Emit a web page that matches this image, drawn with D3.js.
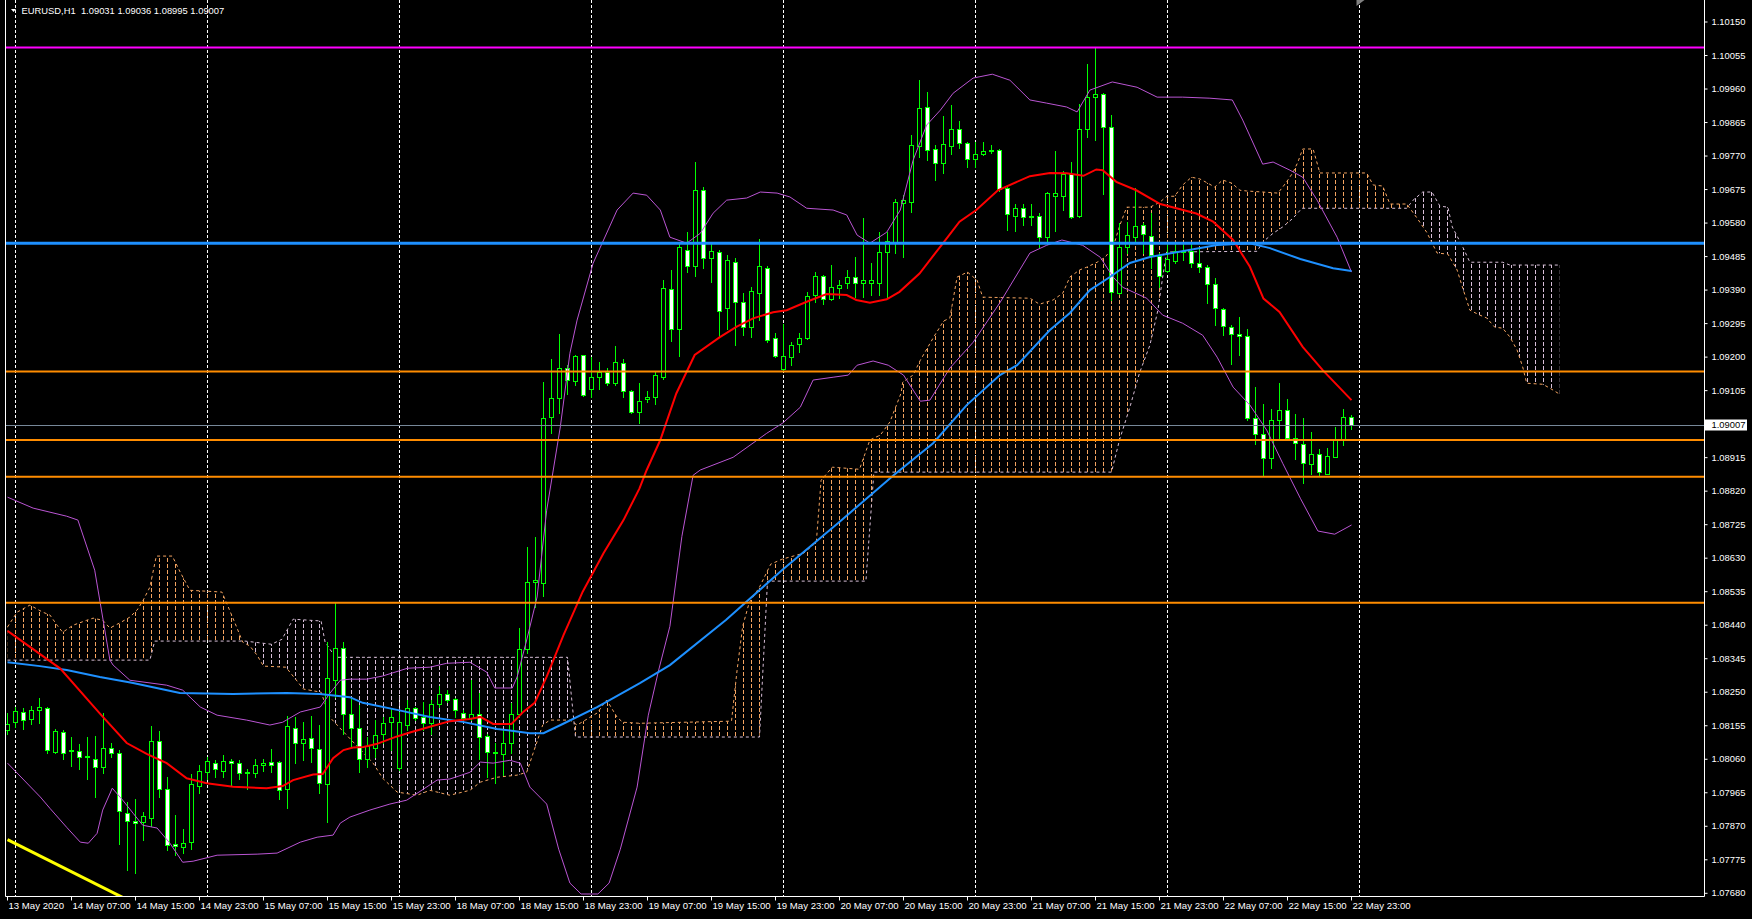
<!DOCTYPE html>
<html>
<head>
<meta charset="utf-8">
<title>EURUSD,H1</title>
<script src="https://cdn.jsdelivr.net/npm/d3@7/dist/d3.min.js"></script>
<style>
html,body{margin:0;padding:0;background:#000;overflow:hidden;}
svg{display:block;}
text{font-family:"Liberation Sans",Arial,sans-serif;}
</style>
</head>
<body>
<svg id="chart" width="1752" height="919"></svg>
<script>
// ---------------- DATA ----------------
const symbolTitle = "EURUSD,H1";
// hourly candles [open, high, low, close], bar 0 = 13 May 2020 23:00
const ohlc = [
[1.08142,1.08190,1.08133,1.08161],[1.08167,1.08209,1.08152,1.08197],[1.08194,1.08204,1.08147,1.08171],[1.08173,1.08210,1.08159,1.08201],
[1.08201,1.08234,1.08163,1.08209],[1.08204,1.08209,1.08078,1.08086],[1.08081,1.08146,1.08078,1.08139],[1.08138,1.08144,1.08062,1.08079],
[1.08082,1.08122,1.08041,1.08086],[1.08084,1.08103,1.08032,1.08065],[1.08065,1.08124,1.08005,1.08069],[1.08062,1.08125,1.07953,1.08037],
[1.08037,1.08192,1.08021,1.08093],[1.08093,1.08105,1.08067,1.08079],[1.08079,1.08086,1.07821,1.07913],[1.07909,1.07939,1.07746,1.07884],
[1.07884,1.07946,1.07738,1.07878],[1.07881,1.07911,1.07832,1.07899],[1.07894,1.08154,1.07870,1.08112],[1.08112,1.08141,1.07953,1.07977],
[1.07977,1.08010,1.07802,1.07818],[1.07819,1.07901,1.07788,1.07815],[1.07812,1.07861,1.07795,1.07824],[1.07826,1.08018,1.07807,1.07989],
[1.07985,1.08043,1.07965,1.08028],[1.08025,1.08067,1.08005,1.08056],[1.08048,1.08059,1.08010,1.08031],[1.08027,1.08072,1.08010,1.08054],
[1.08054,1.08062,1.07984,1.08048],[1.08050,1.08059,1.08005,1.08022],[1.08025,1.08032,1.07975,1.08020],[1.08021,1.08062,1.08010,1.08045],
[1.08045,1.08062,1.08026,1.08048],[1.08051,1.08090,1.08024,1.08045],[1.08051,1.08056,1.07946,1.07974],[1.07977,1.08183,1.07922,1.08154],
[1.08150,1.08180,1.08048,1.08105],[1.08105,1.08166,1.08059,1.08116],[1.08119,1.08183,1.08051,1.08093],[1.08090,1.08157,1.07963,1.07994],
[1.07991,1.08393,1.07881,1.08289],[1.08286,1.08503,1.08237,1.08374],[1.08374,1.08393,1.08133,1.08187],[1.08187,1.08237,1.08096,1.08148],
[1.08148,1.08214,1.08025,1.08060],[1.08060,1.08124,1.08039,1.08098],[1.08091,1.08171,1.08067,1.08130],[1.08133,1.08181,1.08105,1.08164],
[1.08165,1.08204,1.08086,1.08179],[1.08034,1.08195,1.08030,1.08166],[1.08157,1.08228,1.08143,1.08204],[1.08204,1.08209,1.08171,1.08176],
[1.08179,1.08223,1.08143,1.08162],[1.08162,1.08228,1.08133,1.08218],[1.08218,1.08268,1.08209,1.08244],[1.08244,1.08256,1.08223,1.08228],
[1.08230,1.08235,1.08181,1.08199],[1.08192,1.08201,1.08171,1.08176],[1.08176,1.08285,1.08171,1.08187],[1.08187,1.08247,1.08062,1.08122],
[1.08126,1.08133,1.08011,1.08081],[1.08081,1.08105,1.07992,1.08078],[1.08074,1.08143,1.08015,1.08107],[1.08107,1.08220,1.08077,1.08187],
[1.08187,1.08431,1.08181,1.08372],[1.08372,1.08662,1.08360,1.08563],[1.08563,1.08691,1.08492,1.08567],[1.08561,1.09130,1.08523,1.09026],
[1.09029,1.09194,1.08984,1.09083],[1.09083,1.09266,1.09041,1.09168],[1.09168,1.09178,1.09095,1.09135],[1.09133,1.09206,1.09121,1.09203],
[1.09206,1.09207,1.09090,1.09093],[1.09111,1.09201,1.09088,1.09143],[1.09143,1.09187,1.09111,1.09159],[1.09159,1.09168,1.09121,1.09128],
[1.09128,1.09231,1.09121,1.09185],[1.09182,1.09194,1.09088,1.09104],[1.09104,1.09108,1.09041,1.09043],[1.09045,1.09127,1.09014,1.09076],
[1.09080,1.09105,1.09074,1.09088],[1.09086,1.09161,1.09067,1.09148],[1.09143,1.09420,1.09137,1.09395],[1.09392,1.09447,1.09246,1.09281],
[1.09281,1.09527,1.09204,1.09511],[1.09505,1.09555,1.09442,1.09459],[1.09459,1.09752,1.09431,1.09675],[1.09675,1.09681,1.09452,1.09480],
[1.09480,1.09524,1.09414,1.09501],[1.09499,1.09504,1.09256,1.09332],[1.09338,1.09489,1.09281,1.09475],[1.09469,1.09480,1.09234,1.09357],
[1.09357,1.09381,1.09263,1.09284],[1.09286,1.09400,1.09258,1.09388],[1.09383,1.09535,1.09305,1.09458],[1.09454,1.09459,1.09244,1.09248],
[1.09253,1.09267,1.09201,1.09204],[1.09165,1.09294,1.09163,1.09203],[1.09199,1.09244,1.09177,1.09233],[1.09236,1.09267,1.09215,1.09253],
[1.09253,1.09384,1.09251,1.09374],[1.09376,1.09442,1.09357,1.09431],[1.09430,1.09433,1.09351,1.09364],[1.09364,1.09460,1.09362,1.09398],
[1.09395,1.09418,1.09367,1.09404],[1.09409,1.09447,1.09395,1.09426],[1.09426,1.09485,1.09371,1.09411],[1.09409,1.09593,1.09371,1.09418],
[1.09411,1.09466,1.09376,1.09418],[1.09409,1.09554,1.09376,1.09497],[1.09497,1.09554,1.09371,1.09530],[1.09527,1.09647,1.09494,1.09639],
[1.09638,1.09660,1.09485,1.09645],[1.09641,1.09829,1.09612,1.09801],[1.09798,1.09985,1.09766,1.09905],[1.09908,1.09951,1.09758,1.09787],
[1.09789,1.09801,1.09702,1.09749],[1.09749,1.09883,1.09723,1.09803],[1.09799,1.09914,1.09777,1.09848],[1.09848,1.09869,1.09794,1.09806],
[1.09806,1.09811,1.09740,1.09763],[1.09763,1.09811,1.09740,1.09777],[1.09777,1.09809,1.09773,1.09783],[1.09783,1.09800,1.09779,1.09787],
[1.09787,1.09790,1.09672,1.09676],[1.09679,1.09683,1.09561,1.09605],[1.09601,1.09633,1.09558,1.09622],[1.09622,1.09633,1.09575,1.09598],
[1.09598,1.09633,1.09575,1.09600],[1.09600,1.09608,1.09513,1.09540],[1.09540,1.09669,1.09521,1.09664],[1.09657,1.09784,1.09558,1.09664],
[1.09657,1.09728,1.09617,1.09718],[1.09718,1.09754,1.09595,1.09598],[1.09601,1.09917,1.09598,1.09846],[1.09846,1.10031,1.09825,1.09938],
[1.09938,1.10075,1.09815,1.09945],[1.09945,1.09948,1.09662,1.09851],[1.09851,1.09886,1.09362,1.09384],[1.09381,1.09581,1.09379,1.09511],
[1.09513,1.09584,1.09496,1.09546],[1.09541,1.09679,1.09523,1.09572],[1.09574,1.09579,1.09494,1.09549],[1.09544,1.09609,1.09452,1.09490],
[1.09488,1.09494,1.09400,1.09430],[1.09445,1.09521,1.09442,1.09477],[1.09473,1.09521,1.09468,1.09502],[1.09497,1.09525,1.09475,1.09502],
[1.09502,1.09525,1.09456,1.09468],[1.09466,1.09508,1.09440,1.09456],[1.09456,1.09461,1.09354,1.09406],[1.09406,1.09424,1.09291,1.09338],
[1.09335,1.09338,1.09263,1.09288],[1.09284,1.09291,1.09181,1.09265],[1.09265,1.09315,1.09206,1.09260],[1.09260,1.09279,1.09022,1.09026],
[1.09026,1.09116,1.08953,1.08981],[1.08981,1.09067,1.08866,1.08913],[1.08913,1.09052,1.08885,1.09023],[1.09023,1.09128,1.08970,1.09050],
[1.09050,1.09080,1.08967,1.08972],[1.08972,1.09039,1.08910,1.08956],[1.08953,1.09026,1.08844,1.08899],[1.08896,1.08989,1.08870,1.08924],
[1.08924,1.08939,1.08866,1.08873],[1.08870,1.08943,1.08868,1.08920],[1.08918,1.09003,1.08916,1.08967],[1.08967,1.09052,1.08951,1.09031],
[1.09031,1.09036,1.08995,1.09007]
];

const timeTickBars = [0,8,16,24,32,40,48,56,64,72,80,88,96,104,112,120,128,136,144,152,160,168];
const timeLabels = ["13 May 2020","14 May 07:00","14 May 15:00","14 May 23:00","15 May 07:00","15 May 15:00","15 May 23:00",
  "18 May 07:00","18 May 15:00","18 May 23:00","19 May 07:00","19 May 15:00","19 May 23:00","20 May 07:00","20 May 15:00",
  "20 May 23:00","21 May 07:00","21 May 15:00","21 May 23:00","22 May 07:00","22 May 15:00","22 May 23:00"];
const daySeparatorBars = [1,25,49,73,97,121,145,169];
const priceTickLabels = ["1.10150","1.10055","1.09960","1.09865","1.09770","1.09675","1.09580","1.09485","1.09390",
  "1.09295","1.09200","1.09105","1.09010","1.08915","1.08820","1.08725","1.08630","1.08535","1.08440","1.08345",
  "1.08250","1.08155","1.08060","1.07965","1.07870","1.07775","1.07680"];

// indicator lines, [bar, price]
const redMA = [[0,1.08424],[6.6,1.08317],[11.5,1.08191],[14.9,1.08106],[17.4,1.08075],[19.9,1.08049],[22.4,1.08006],[24.9,1.07992],
 [28.2,1.07982],[32.4,1.07978],[34.4,1.07984],[35.7,1.08001],[38.2,1.08017],[39.4,1.08018],[40.7,1.08063],[42,1.08086],[43.2,1.08093],
 [44.5,1.08095],[46.1,1.08103],[48.6,1.08124],[50.3,1.08136],[52.8,1.08152],[55.3,1.08168],[57.8,1.08174],[59.1,1.08180],[60.7,1.08160],
 [63,1.08160],[64.5,1.08195],[65.9,1.08220],[67.4,1.08294],[69.5,1.08412],[71.9,1.08535],[74.5,1.08644],[77,1.08738],[79,1.08828],
 [79.9,1.08880],[81.6,1.08965],[83.6,1.09097],[85.9,1.09206],[89,1.09256],[91.1,1.09286],[93.2,1.09310],[95.7,1.09327],[97.4,1.09333],
 [99.9,1.09357],[102.4,1.09379],[104.9,1.09376],[106.1,1.09362],[107.8,1.09354],[109.9,1.09364],[111.5,1.09385],[114,1.09437],
 [116.9,1.09522],[119,1.09584],[121.1,1.09617],[123.8,1.09673],[127.8,1.09713],[130.3,1.09722],[132.4,1.09721],[134.5,1.09714],
 [136.1,1.09732],[136.9,1.09730],[138.6,1.09697],[141.1,1.09673],[144.1,1.09634],[148.6,1.09607],[150.7,1.09584],[153.2,1.09532],
 [155.3,1.09456],[157,1.09366],[159,1.09328],[161.9,1.09229],[164.4,1.09163],[168,1.09078]];

const blueMA = [[0,1.08335],[4.05,1.08324],[7.4,1.08313],[11.55,1.08293],[15.7,1.08276],[21.55,1.08248],[28.2,1.08245],[34.9,1.08248],
 [39.05,1.08245],[42.8,1.08236],[44.4,1.08220],[48.7,1.08200],[52.8,1.08180],[56.9,1.08166],[61.2,1.08146],[65.3,1.08134],[67,1.08134],
 [69.4,1.08160],[73.7,1.08208],[79.05,1.08276],[82.8,1.08327],[89.8,1.08455],[96.8,1.08596],[103.8,1.08729],[110.8,1.08866],
 [115.7,1.08956],[119.9,1.09064],[124.05,1.09149],[126.2,1.09177],[130.3,1.09277],[132.8,1.09325],[135.3,1.09390],[137.8,1.09427],
 [140.3,1.09467],[142.8,1.09484],[147,1.09501],[151.2,1.09518],[155.3,1.09523],[157.8,1.09509],[161.6,1.09478],[165.7,1.09452],[168,1.09444]];

const bbUpper = [[0,1.08803],[3.2,1.08772],[7.4,1.08749],[8.8,1.08738],[10.9,1.08596],[12.8,1.08341],[13.2,1.08327],[15.3,1.08284],
 [19.9,1.08270],[21.9,1.08256],[24.1,1.08208],[26.2,1.08185],[29.9,1.08171],[32.8,1.08157],[34.4,1.08165],[36.6,1.08194],[39.1,1.08208],
 [40.3,1.08247],[41.6,1.08284],[42.8,1.08287],[44.9,1.08287],[46.9,1.08296],[50,1.08318],[52.8,1.08321],[54.9,1.08332],[57.8,1.08335],
 [59.9,1.08307],[60.9,1.08262],[63.1,1.08262],[63.7,1.08293],[64.9,1.08398],[66.2,1.08520],[67.4,1.08766],[69.1,1.09002],[70.3,1.09211],
 [71.2,1.09305],[73.2,1.09466],[76.2,1.09617],[78.2,1.09665],[79.9,1.09659],[81.6,1.09617],[82.8,1.09540],[84.9,1.09523],[86.6,1.09551],
 [88.2,1.09608],[89.9,1.09645],[92.4,1.09651],[94.1,1.09668],[96.2,1.09665],[97.8,1.09654],[99.9,1.09622],[103.2,1.09617],[104.9,1.09603],
 [106.2,1.09546],[107.8,1.09523],[109.9,1.09554],[111.6,1.09617],[113.2,1.09758],[114.9,1.09858],[116.6,1.09900],[118.2,1.09948],
 [120.7,1.09991],[123.1,1.10002],[125.3,1.09985],[127.8,1.09929],[129.9,1.09920],[132.4,1.09909],[133.7,1.09895],[135.3,1.09957],
 [138.1,1.09980],[141.2,1.09965],[143.7,1.09937],[146.9,1.09937],[150.3,1.09934],[153.1,1.09929],[154.4,1.09872],[156.9,1.09747],
 [158.2,1.09753],[160.3,1.09730],[161.9,1.09710],[163.7,1.09645],[166.2,1.09540],[168,1.09441]];

const bbLower = [[0,1.08049],[1.2,1.08021],[4.1,1.07953],[5.3,1.07921],[7.4,1.07867],[9.1,1.07825],[10.1,1.07822],[11.2,1.07850],
 [11.9,1.07916],[13.1,1.07978],[14.4,1.07944],[15.7,1.07907],[16.9,1.07873],[18.7,1.07865],[20.3,1.07822],[21.9,1.07768],[23.2,1.07771],
 [26.2,1.07788],[31.2,1.07791],[33.7,1.07794],[36.6,1.07825],[38.7,1.07839],[40.7,1.07845],[41.6,1.07879],[42.8,1.07896],[45.3,1.07916],
 [47.8,1.07933],[49.9,1.07944],[53.7,1.08001],[55.3,1.08004],[57.8,1.08023],[59.1,1.08052],[60.7,1.08049],[62.8,1.08057],[64.1,1.08049],
 [65.3,1.07981],[67.4,1.07933],[68.9,1.07805],[70.3,1.07709],[71.7,1.07678],[73.8,1.07678],[75.2,1.07709],[76.6,1.07805],[78.7,1.07981],
 [80.1,1.08185],[81.4,1.08313],[82.8,1.08437],[84.3,1.08692],[85.7,1.08865],[86.6,1.08880],[90.7,1.08916],[94.9,1.08984],[96.9,1.09013],
 [99.1,1.09058],[100.7,1.09135],[103.2,1.09143],[105.1,1.09149],[106.2,1.09177],[108.2,1.09189],[110.1,1.09177],[112,1.09149],
 [114.1,1.09075],[115.3,1.09078],[117.8,1.09169],[120.7,1.09242],[124.1,1.09356],[127.8,1.09495],[129.9,1.09517],[131.8,1.09532],
 [134.4,1.09517],[136.6,1.09483],[138.2,1.09427],[139.4,1.09398],[142.4,1.09367],[144.4,1.09319],[146.9,1.09296],[149.4,1.09262],
 [151.2,1.09200],[153.2,1.09115],[155.3,1.09064],[157.4,1.08993],[159.4,1.08899],[161.6,1.08800],[163.8,1.08707],[165.9,1.08698],[168,1.08724]];

// Ichimoku cloud (shifted 26 bars forward)
const spanA = [[0,1.08435],[1.2,1.08477],[2.8,1.08497],[4.4,1.08477],[5.3,1.08469],[6.2,1.08440],[6.9,1.08420],[8.2,1.08440],
 [9.9,1.08454],[10.7,1.08460],[11.9,1.08454],[12.8,1.08432],[14,1.08446],[15.3,1.08463],[16.2,1.08483],[16.9,1.08508],[17.8,1.08548],
 [18.6,1.08636],[20.6,1.08636],[21.6,1.08590],[22.8,1.08539],[26.8,1.08534],[27.7,1.08486],[28.6,1.08437],[29.4,1.08392],[30.3,1.08381],
 [31.2,1.08355],[32,1.08324],[34.8,1.08321],[37,1.08259],[39.2,1.08250],[40.3,1.08179],[41.2,1.08157],[45.7,1.08049],[46.9,1.08006],
 [48.7,1.07967],[51.2,1.07958],[52.8,1.07972],[55.3,1.07958],[57.8,1.07972],[59.1,1.07995],[61.2,1.08009],[63.7,1.08015],[64.9,1.08023],
 [65.7,1.08077],[66.9,1.08157],[67.8,1.08171],[70.3,1.08171],[71.2,1.08157],[73.7,1.08191],[74.9,1.08228],[76.2,1.08179],[76.9,1.08165],
 [79,1.08162],[90.5,1.08168],[91.2,1.08313],[91.9,1.08437],[92.7,1.08503],[94,1.08548],[95.4,1.08613],[96.8,1.08627],[99.5,1.08644],
 [101.1,1.08675],[101.7,1.08851],[103.1,1.08888],[106.5,1.08882],[107.8,1.08965],[109.1,1.08979],[110.3,1.09016],[111.7,1.09098],
 [111.9,1.09129],[113.2,1.09149],[114.1,1.09191],[115.7,1.09254],[117,1.09302],[117.8,1.09311],[118.7,1.09427],[120,1.09441],
 [121.2,1.09418],[121.9,1.09370],[127.8,1.09367],[129,1.09350],[130.7,1.09362],[131.9,1.09381],[132.8,1.09427],[134,1.09447],
 [134.9,1.09455],[136.2,1.09469],[137.2,1.09483],[138.2,1.09512],[139.05,1.09574],[139.9,1.09625],[142.8,1.09625],[144.05,1.09639],
 [144.9,1.09656],[145.9,1.09656],[146.9,1.09688],[148,1.09710],[149.05,1.09705],[150.05,1.09693],[150.9,1.09682],[151.9,1.09702],
 [153.05,1.09693],[154.05,1.09673],[154.9,1.09671],[158.8,1.09665],[159.4,1.09682],[160.05,1.09702],[160.7,1.09724],[161.3,1.09753],
 [161.9,1.09790],[163.2,1.09790],[164.05,1.09722],[169.9,1.09722],[170.7,1.09688],[171.9,1.09685],[172.8,1.09634],[174.9,1.09634],
 [175.3,1.09622],[176.2,1.09594],[177.4,1.09554],[178.7,1.09495],[180.05,1.09492],[181.2,1.09447],[181.9,1.09396],[182.8,1.09333],
 [184.05,1.09319],[184.9,1.09311],[185.9,1.09285],[186.9,1.09282],[187.8,1.09257],[188.7,1.09220],[189.4,1.09172],[189.9,1.09126],
 [191.9,1.09123],[192.8,1.09112],[193.8,1.09098],[194,1.09095]];

const spanB = [[0,1.08341],[17.8,1.08341],[18.4,1.08395],[29.7,1.08395],[33,1.08386],[34.3,1.08400],[35.7,1.08457],[39.2,1.08452],
 [39.7,1.08392],[41,1.08349],[70,1.08349],[71,1.08123],[94,1.08123],[95,1.08565],[107.3,1.08565],[108.3,1.08874],[138,1.08874],
 [139,1.08965],[140.3,1.09058],[141.5,1.09155],[142.8,1.09234],[143.8,1.09333],[144.4,1.09427],[144.9,1.09498],[156.2,1.09500],
 [156.9,1.09526],[158.2,1.09551],[159.4,1.09569],[160.7,1.09594],[161.8,1.09622],[174.9,1.09622],[175.7,1.09645],[176.9,1.09668],
 [178.05,1.09668],[179.05,1.09628],[180.05,1.09625],[180.6,1.09569],[181.8,1.09517],[182.8,1.09469],[186.9,1.09469],[187.8,1.09461],
 [194,1.09461]];

// horizontal line objects
const levels = [1.10078, 1.09523, 1.09159, 1.08965, 1.08861, 1.08504];
const trendline = [[0,1.07832],[15.3,1.07658]];
const lastPrice = 1.09007;

// ---------------- STYLE ----------------
const levelColors = ["#ff00ff","#1e90ff","#ff8c00","#ff8c00","#ff8c00","#ff8c00"];
const levelWidths = [2,3,2,2,2,2];
const W = 1752, H = 919;
const PL = 5.5, PR = 1704.5, PB = 896.5;

// ---------------- DRAW ----------------
const svg = d3.select("#chart");
svg.append("rect").attr("width",W).attr("height",H).attr("fill","#000");

const x = d3.scaleLinear().domain([0,194]).range([7.5, 7.5 + 8*194]);
const y = d3.scaleLinear().domain([1.07680, 1.10150]).range([893.3, 22]);

const defs = svg.append("defs");
defs.append("clipPath").attr("id","plotClip").append("rect")
  .attr("x",6).attr("y",0).attr("width",PR-6).attr("height",PB);

function hatch(id, color){
  const p = defs.append("pattern").attr("id",id).attr("patternUnits","userSpaceOnUse")
    .attr("x",3).attr("y",0).attr("width",8).attr("height",6);
  p.append("rect").attr("x",4).attr("y",0).attr("width",1).attr("height",4).attr("fill",color);
}
hatch("hatchA","#f4a460");
hatch("hatchB","#d8bfd8");

const aboveArea = d3.area().x(d=>x(d[0])).y0(0).y1(d=>y(d[1]));
const belowArea = d3.area().x(d=>x(d[0])).y0(H).y1(d=>y(d[1]));
defs.append("clipPath").attr("id","belowA").append("path").attr("d", belowArea(spanA));
defs.append("clipPath").attr("id","aboveA").append("path").attr("d", aboveArea(spanA));

const plot = svg.append("g").attr("clip-path","url(#plotClip)");

// day separators (grid)
plot.append("g").selectAll("line").data(daySeparatorBars).join("line")
  .attr("x1",d=>x(d)).attr("x2",d=>x(d)).attr("y1",0).attr("y2",PB)
  .attr("stroke","#ffffff").attr("stroke-width",1).attr("stroke-dasharray","3,2");

// cloud hatch
const cloud = plot.append("g");
cloud.append("g").attr("clip-path","url(#belowA)")
  .append("path").attr("d", aboveArea(spanB)).attr("fill","url(#hatchA)");
cloud.append("g").attr("clip-path","url(#aboveA)")
  .append("path").attr("d", belowArea(spanB)).attr("fill","url(#hatchB)");

const line = d3.line().x(d=>x(d[0])).y(d=>y(d[1]));
plot.append("path").attr("d", line(spanA)).attr("fill","none").attr("stroke","#f4a460")
  .attr("stroke-width",1).attr("stroke-dasharray","3,3");
plot.append("path").attr("d", line(spanB)).attr("fill","none").attr("stroke","#d8bfd8")
  .attr("stroke-width",1).attr("stroke-dasharray","3,3");

// candles
const cg = plot.append("g");
const bars = cg.selectAll("g.bar").data(ohlc).join("g").attr("class","bar");
bars.append("line")
  .attr("x1",(d,i)=>x(i)).attr("x2",(d,i)=>x(i))
  .attr("y1",d=>Math.round(y(d[1]))).attr("y2",d=>Math.round(y(d[2]))+1)
  .attr("stroke","#00ff00").attr("stroke-width",1);
bars.each(function(d,i){
  const g = d3.select(this);
  const top = Math.round(y(Math.max(d[0],d[3])));
  const bot = Math.round(y(Math.min(d[0],d[3])));
  if (bot - top < 1) {
    g.append("line").attr("x1",x(i)-2.5).attr("x2",x(i)+2.5)
      .attr("y1",top+0.5).attr("y2",top+0.5).attr("stroke","#00ff00");
  } else {
    g.append("rect").attr("x",x(i)-2).attr("y",top+0.5).attr("width",4).attr("height",bot-top)
      .attr("fill", d[3] < d[0] ? "#ffffff" : "#000000").attr("stroke","#00ff00").attr("stroke-width",1);
  }
});

// bollinger bands
[bbUpper,bbLower].forEach(b=>{
  plot.append("path").attr("d", line(b)).attr("fill","none").attr("stroke","#ba55d3").attr("stroke-width",1);
});
// moving averages
plot.append("path").attr("d", line(blueMA)).attr("fill","none").attr("stroke","#1e90ff").attr("stroke-width",2);
plot.append("path").attr("d", line(redMA)).attr("fill","none").attr("stroke","#ff0000").attr("stroke-width",2);

// horizontal levels
plot.append("g").selectAll("line").data(levels).join("line")
  .attr("x1",PL).attr("x2",PR).attr("y1",d=>y(d)).attr("y2",d=>y(d))
  .attr("stroke",(d,i)=>levelColors[i]).attr("stroke-width",(d,i)=>levelWidths[i]);

// trendline
plot.append("path").attr("d", line(trendline)).attr("stroke","#ffff00").attr("stroke-width",3).attr("fill","none");

// last price line
plot.append("line").attr("x1",PL).attr("x2",PR)
  .attr("y1",Math.round(y(lastPrice))+0.5).attr("y2",Math.round(y(lastPrice))+0.5)
  .attr("stroke","#778899").attr("stroke-width",1);

// frame
svg.append("path").attr("d",`M${PL},0V${PB}H${PR}V0`).attr("fill","none").attr("stroke","#ffffff").attr("stroke-width",1);

// axes
const yAxis = d3.axisRight(y).tickValues(priceTickLabels.map(Number))
  .tickFormat((d,i)=>priceTickLabels[i]).tickSize(3).tickPadding(4).offset(0);
const ya = svg.append("g").attr("transform",`translate(${PR},0)`).call(yAxis);
ya.select(".domain").remove();
ya.selectAll("line").attr("stroke","#ffffff");
ya.selectAll("text").attr("fill","#ffffff").style("font-size","9.4px").style("font-family","'Liberation Sans',Arial,sans-serif");

const xAxis = d3.axisBottom(x).tickValues(timeTickBars)
  .tickFormat((d,i)=>timeLabels[i]).tickSize(4).tickPadding(0).offset(0);
const xa = svg.append("g").attr("transform",`translate(0,${PB})`).call(xAxis);
xa.select(".domain").remove();
xa.selectAll("line").attr("stroke","#ffffff");
xa.selectAll("text").attr("fill","#ffffff").attr("text-anchor","start").attr("x",1).attr("y",6)
  .style("font-size","9.6px").style("font-family","'Liberation Sans',Arial,sans-serif");

// last price label box
const ly = Math.round(y(lastPrice));
svg.append("rect").attr("x",PR+0.5).attr("y",ly-5.5).attr("width",42).attr("height",11).attr("fill","#ffffff");
svg.append("text").attr("x",PR+7).attr("y",ly).attr("dy","0.34em").attr("fill","#000")
  .style("font-size","9.4px").text(d3.format(".5f")(lastPrice));

// header
const last = ohlc[ohlc.length-1];
svg.append("path").attr("d","M11,9L16,9L13.5,12Z").attr("fill","#ffffff");
svg.append("text").attr("x",21.5).attr("y",14).attr("fill","#ffffff").style("font-size","9.4px")
  .attr("xml:space","preserve")
  .text(`${symbolTitle}  ${last.map(v=>d3.format(".5f")(v)).join(" ")}`);

// chart shift marker
svg.append("path").attr("d",`M${x(169)-3},0L${x(169)+5},0L${x(169)-3},6Z`).attr("fill","#808080");
</script>
</body>
</html>
